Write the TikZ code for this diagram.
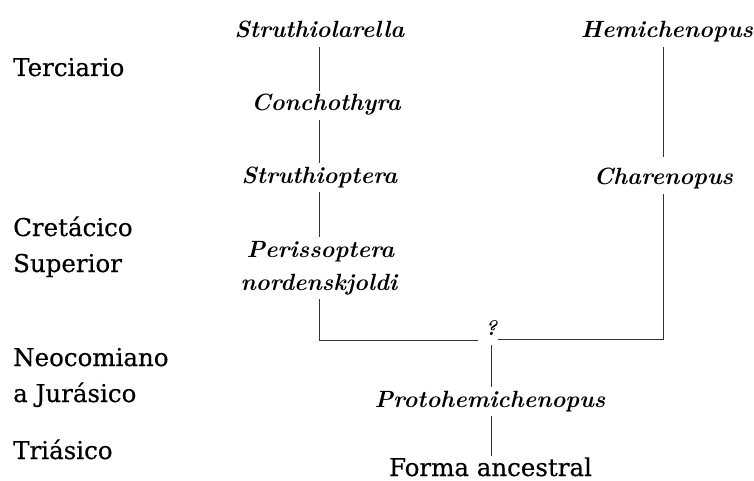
\documentclass[tikz,border=0pt]{standalone}
\usepackage{fontspec}
\setmainfont{Latin Modern Roman}
\newfontfamily\periodfont[FakeBold=0.4]{DejaVu Serif}
\begin{document}
\begin{tikzpicture}[x=1pt,y=-1pt,
  taxon/.style={font=\fontsize{23.5}{28}\selectfont\bfseries\itshape,
    text height=16.5pt, text depth=6pt, inner xsep=0pt, inner ysep=3pt, anchor=base},
  era/.style={font=\periodfont\fontsize{24.5}{30}\selectfont, anchor=base west, inner sep=0pt},
  link/.style={draw=black!80, line width=0.9pt}]
\path[use as bounding box, fill=white] (0,0) rectangle (754,481);

% periods
\node[era] (ter) at (13,76) {Terciario};
\node[era] (cre) at (13,236) {Cretácico};
\node[era] (sup) at (13,272) {Superior};
\node[era] (neo) at (13,366) {Neocomiano};
\node[era] (jur) at (13,402) {a Jurásico};
\node[era] (tri) at (13,459) {Triásico};

% taxa
\node[taxon] (struth) at (319.5,38) {Struthiolarella};
\node[taxon] (conch) at (326,111) {Conchothyra};
\node[taxon] (strio) at (319.5,183) {Struthioptera};
\node[taxon] (peri1) at (320.5,257) {Perissoptera};
\node[taxon] (peri2) at (319,290) {nordenskjoldi};
\node[taxon] (hemi) at (667,38) {Hemichenopus};
\node[taxon] (chare) at (663.5,185) {Charenopus};
\node[taxon] (proto) at (490,407) {Protohemichenopus};
\node[era, anchor=base, inner ysep=1pt] (forma) at (490.5,476) {Forma ancestral};
\node[font=\fontsize{21}{24}\selectfont\bfseries\itshape, anchor=base, inner sep=0pt] (q) at (491,335) {?};

\coordinate (jl) at (478,340);
\coordinate (jr) at (498,339);

% connectors
\draw[link] (struth.south) -- (struth.south |- conch.north);
\draw[link] (struth.south |- conch.south) -- (struth.south |- strio.north);
\draw[link] (strio.south) -- (strio.south |- peri1.north);
\draw[link] (peri2.south) |- (jl);
\draw[link] (jr) -| (chare.south);
\draw[link, shorten >=8pt] (hemi.south -| chare.south) -- (chare.north);
\draw[link, shorten <=10pt] (q.south) -- (q.south |- proto.north);
\draw[link] (proto.south -| q.south) -- (q.south |- forma.north);
\end{tikzpicture}
\end{document}
